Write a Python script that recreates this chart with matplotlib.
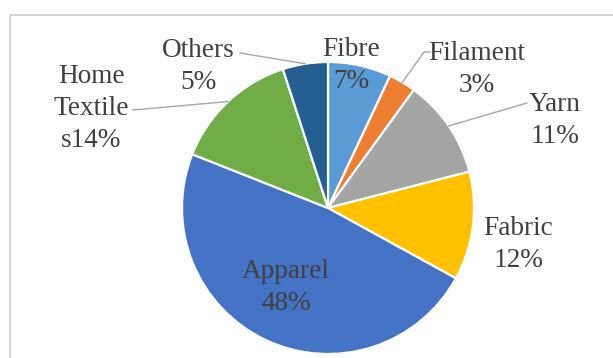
import numpy as np
import matplotlib
matplotlib.use("Agg")
import matplotlib.pyplot as plt

# Share of textile exports by segment (%)
categories = ["Fibre", "Filament", "Yarn", "Fabric", "Apparel", "Home Textile", "Others"]
shares = [7, 3, 11, 12, 48, 14, 5]
label_texts = ["Fibre\n7%", "Filament\n3%", "Yarn\n11%", "Fabric\n12%",
               "Apparel\n48%", "Home\nTextile\ns14%", "Others\n5%"]
colors = ["#5B9BD5", "#ED7D31", "#A5A5A5", "#FFC000", "#4472C4", "#70AD47", "#255E91"]

W, H = 613, 358
fig = plt.figure(figsize=(W / 100, H / 100), dpi=100)
ax = fig.add_axes([0, 0, 1, 1])

# pie geometry in pixel units (y measured upward)
cx, cy, r = 328, H - 208, 146
wedges, _ = ax.pie(shares, colors=colors, startangle=90, counterclock=False,
                   center=(cx, cy), radius=r, frame=True,
                   wedgeprops=dict(edgecolor="white", linewidth=1.6))
ax.set_xlim(0, W)
ax.set_ylim(0, H)
ax.set_aspect("equal")
ax.axis("off")

# chart-area frame
ax.plot([10, 10, W], [0, H - 15, H - 15], color="#d4d4d4", lw=1.4,
        solid_joinstyle="miter")

# label anchors: (x centre, last-line baseline in px from top)
label_pos = [(351, 88), (477, 92), (555, 143), (518, 267),
             (286, 310), (91, 147), (198, 89)]
# leader lines: start point near the label, end on the wedge rim
leader_start = {1: [(430, 52), (424, 52)], 2: [(527, 103)],
                5: [(133, 110)], 6: [(240, 53)]}

text_color = "#404040"
for i, (txt, (lx, ly)) in enumerate(zip(label_texts, label_pos)):
    ax.text(lx, H - ly, txt, ha="center", va="baseline", ma="center",
            fontsize=19.6, family="Liberation Serif", color=text_color,
            linespacing=1.36)
    if i in leader_start:
        w = wedges[i]
        mid = np.deg2rad((w.theta1 + w.theta2) / 2)
        ex, ey = cx + r * np.cos(mid), cy + r * np.sin(mid)
        pts = [(x, H - y) for x, y in leader_start[i]] + [(ex, ey)]
        xs, ys = zip(*pts)
        ax.plot(xs, ys, color="#a6a6a6", lw=1.0)

fig.savefig("out.png", dpi=100, facecolor="white")
